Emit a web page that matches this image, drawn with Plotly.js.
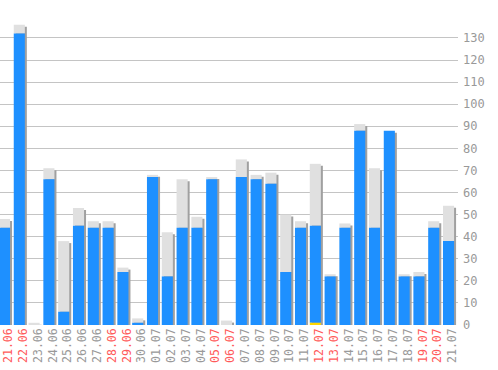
<!DOCTYPE html>
<html>
<head>
<meta charset="utf-8">
<script src="https://cdn.plot.ly/plotly-3.0.1.min.js"></script>
<style>html,body{margin:0;padding:0;background:#fff}#chart{width:498px;height:370px}</style>
</head>
<body>
<div id="chart"></div>
<script>
const dates = ['21.06','22.06','23.06','24.06','25.06','26.06','27.06','28.06','29.06','30.06','01.07','02.07','03.07','04.07','05.07','06.07','07.07','08.07','09.07','10.07','11.07','12.07','13.07','14.07','15.07','16.07','17.07','18.07','19.07','20.07','21.07'];
const weekendDates = ['21.06','22.06','28.06','29.06','05.07','06.07','12.07','13.07','19.07','20.07'];
const yellowVals = [0,0,0,0,0,0,0,0,0,0,0,0,0,0,0,0,0,0,0,0,0,1,0,0,0,0,0,0,0,0,0];
const blueVals   = [44,132,0,66,6,45,44,44,24,1,67,22,44,44,66,0,67,66,64,24,44,44,22,44,88,44,88,22,22,44,38];
const greyVals   = [4,4,1,5,32,8,3,3,2,2,1,20,22,5,1,2,8,2,5,26,3,28,1,2,3,27,0,1,2,3,16];
const yTicks = [0,10,20,30,40,50,60,70,80,90,100,110,120,130];

const xs = dates.map((d, i) => i);
const blueBase = yellowVals.slice();
const greyBase = yellowVals.map((v, i) => v + blueVals[i]);
const totals = greyBase.map((v, i) => v + greyVals[i]);
const tickText = dates.map(d => weekendDates.includes(d)
  ? '<span style="color:#ff5a5a">' + d + '</span>' : d);
const labelPos = xs.map(i => i + 0.27);

const W = 0.75;
const traces = [
  {type:'bar', x:xs, y:totals, base:-0.9, width:W, offset:-W/2 + 0.135,
   marker:{color:'#a0a0a0', line:{width:0}}, hoverinfo:'skip'},
  {type:'bar', x:xs, y:greyVals, base:greyBase, width:W,
   marker:{color:'#e0e0e0', line:{width:0}}},
  {type:'bar', x:xs, y:blueVals, base:blueBase, width:W,
   marker:{color:'#1e90ff', line:{width:0}}},
  {type:'bar', x:xs, y:yellowVals, base:0, width:W,
   marker:{color:'#ffd700', line:{width:0}}}
];

const layout = {
  width:498, height:370,
  margin:{l:0, r:40, t:0, b:45, pad:0},
  paper_bgcolor:'#ffffff', plot_bgcolor:'#ffffff',
  barmode:'overlay', showlegend:false,
  font:{family:'"DejaVu Sans Mono", monospace', size:12, color:'#999999'},
  xaxis:{range:[-0.304, 30.64], tickmode:'array', tickvals:labelPos, ticktext:tickText,
    tickangle:-90, showgrid:false, zeroline:false, showline:false, ticks:'',
    ticklabeloverflow:'allow',
    tickfont:{family:'"DejaVu Sans Mono", monospace', size:11.5, color:'#999999'}},
  yaxis:{range:[0, 147.2], side:'right', tickmode:'array', tickvals:yTicks,
    showgrid:true, gridcolor:'#c4c4c4', gridwidth:1, zeroline:false, showline:false, ticks:'',
    ticklabelstandoff:4,
    tickfont:{family:'"DejaVu Sans Mono", monospace', size:12, color:'#999999'}}
};
Plotly.newPlot('chart', traces, layout, {staticPlot:true, displayModeBar:false});
</script>
</body>
</html>
